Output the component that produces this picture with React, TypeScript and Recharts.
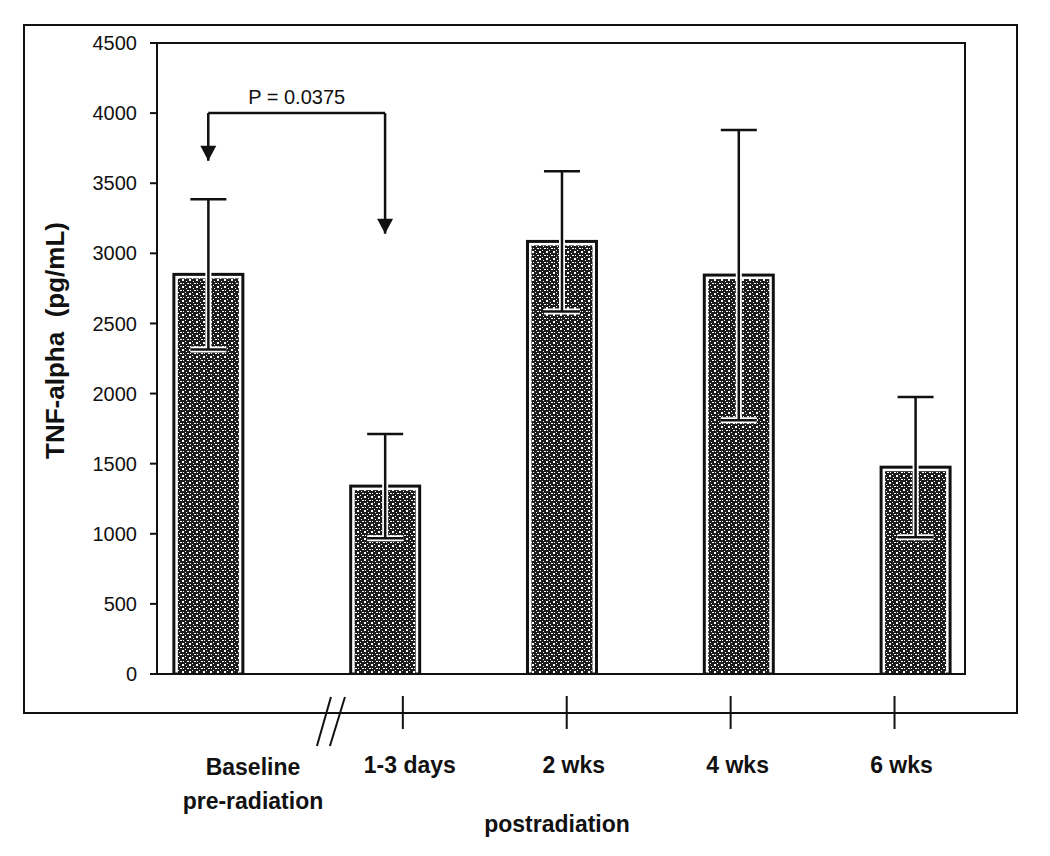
import React from 'react'
import { BarChart, Bar, XAxis, YAxis, ErrorBar, ReferenceLine, ReferenceDot, ReferenceArea } from 'recharts'

const categories = ['Baseline', '1-3 days', '2 wks', '4 wks', '6 wks']
const means = [2850, 1340, 3085, 2845, 1475]
const sds = [535, 372, 500, 1035, 500]
const yTicks = [0, 500, 1000, 1500, 2000, 2500, 3000, 3500, 4000, 4500]
const pLabel = 'P = 0.0375'
const bracketLevel = 4000
const bracketTips = [3660, 3140]

const rows = categories.map((name, i) => ({ idx: i, name, mean: means[i], sd: sds[i] }))

const INK = '#111'
const FONT = '"Liberation Sans", Arial, sans-serif'
// white specks of the scanned stipple fill
const specks = [[0, 0, 2, 1], [4, 1, 1, 1], [1, 3, 1, 1], [5, 3, 2, 1], [3, 5, 1, 1], [0, 6, 2, 1]]

const StippleBar = (p: any) => {
  const { x, y, width, height } = p
  if (!height) return null
  return (
    <g>
      <rect x={x} y={y} width={width} height={height} fill="#fff" stroke={INK} strokeWidth={3} />
      <rect x={x + 4} y={y + 4} width={width - 8} height={height - 4} fill="url(#stipple)" />
    </g>
  )
}

const Arrow = (p: any) => {
  const { cx, cy } = p
  return <polygon points={`${cx - 8},${cy - 15} ${cx + 8},${cy - 15} ${cx},${cy}`} fill={INK} />
}

const OuterTick = (p: any) => {
  const { x, y, payload } = p
  const i = payload.value
  const txt = { fontFamily: FONT, fontWeight: 'bold' as const, fontSize: 23, fill: INK, textAnchor: 'middle' as const }
  if (i === 0) {
    return (
      <g>
        <line x1={x + 78} y1={y + 34} x2={x + 92} y2={y - 15} stroke={INK} strokeWidth={2} />
        <line x1={x + 91} y1={y + 34} x2={x + 106} y2={y - 15} stroke={INK} strokeWidth={2} />
        <text x={x + 14} y={y + 63} {...txt}>{categories[0]}</text>
        <text x={x + 14} y={y + 97} {...txt}>pre-radiation</text>
      </g>
    )
  }
  return (
    <g>
      <line x1={x} y1={y - 16} x2={x} y2={y + 17} stroke={INK} strokeWidth={2} />
      <text x={x + 7} y={y + 61} {...txt}>{categories[i]}</text>
    </g>
  )
}

const yLabel = (p: any) => {
  const vb = p.viewBox
  const cx = vb.x + 55
  const cy = vb.y + vb.height / 2 - 18
  return (
    <text x={cx} y={cy} transform={`rotate(-90 ${cx} ${cy})`} textAnchor="middle" dominantBaseline="central"
      style={{ whiteSpace: 'pre' }} fontFamily={FONT} fontWeight="bold" fontSize={26} fill={INK}>
      TNF-alpha  (pg/mL)
    </text>
  )
}

const xLabel = (p: any) => {
  const vb = p.viewBox
  return (
    <text x={vb.x + vb.width / 2 - 4} y={vb.y + 120} textAnchor="middle" fontFamily={FONT} fontWeight="bold" fontSize={23} fill={INK}>
      postradiation
    </text>
  )
}

export default function App() {
  return (
    <div style={{ position: 'absolute', left: 0, top: 0, width: 1050, height: 856, background: '#fff' }}>
      <svg width={0} height={0} style={{ position: 'absolute' }}>
        <defs>
          <pattern id="stipple" width={7} height={7} patternUnits="userSpaceOnUse">
            <rect width={7} height={7} fill="#1c1c1c" />
            {specks.map((s, k) => <rect key={k} x={s[0]} y={s[1]} width={s[2]} height={s[3]} fill="#fff" />)}
          </pattern>
        </defs>
      </svg>
      <div style={{ position: 'absolute', left: 23, top: 24, width: 995, height: 690, border: `2px solid ${INK}`, boxSizing: 'border-box' }} />
      <div style={{ position: 'absolute', left: 0, top: 0 }}>
        <BarChart width={1050} height={856} data={rows} margin={{ top: 43, right: 85, bottom: 0, left: 0 }}>
          <XAxis dataKey="idx" type="number" domain={[-0.29, 4.28]} allowDataOverflow tick={false} tickLine={false}
            axisLine={{ stroke: INK, strokeWidth: 2 }} height={38} />
          <XAxis xAxisId="outer" dataKey="idx" type="number" domain={[-0.5, 4.43]} allowDataOverflow ticks={[0, 1, 2, 3, 4]}
            axisLine={false} tickLine={false} tickSize={0} tickMargin={0} tick={OuterTick} height={144} label={xLabel} />
          <YAxis type="number" domain={[0, 4500]} ticks={yTicks} width={157} allowDataOverflow
            axisLine={{ stroke: INK, strokeWidth: 2 }} tickLine={{ stroke: INK, strokeWidth: 2 }} tickSize={7} tickMargin={13}
            tick={{ fontFamily: FONT, fontSize: 20, fill: INK }} label={yLabel} />
          <ReferenceArea x1={-0.29} x2={4.28} y1={0} y2={4500} fill="none" stroke={INK} strokeWidth={2} />
          <Bar dataKey="mean" barSize={69} shape={StippleBar} isAnimationActive={false}>
            <ErrorBar dataKey="sd" width={18} stroke="#fff" strokeWidth={6} isAnimationActive={false} />
            <ErrorBar dataKey="sd" width={18} stroke={INK} strokeWidth={2.5} isAnimationActive={false} />
          </Bar>
          <ReferenceLine segment={[{ x: 0, y: bracketLevel }, { x: 1, y: bracketLevel }]} stroke={INK} strokeWidth={2.5}
            label={{ value: pLabel, position: 'top', offset: 9, fontFamily: FONT, fontSize: 20, fill: INK }} />
          <ReferenceLine segment={[{ x: 0, y: bracketLevel }, { x: 0, y: bracketTips[0] }]} stroke={INK} strokeWidth={2.5} />
          <ReferenceLine segment={[{ x: 1, y: bracketLevel }, { x: 1, y: bracketTips[1] }]} stroke={INK} strokeWidth={2.5} />
          <ReferenceDot x={0} y={bracketTips[0]} shape={Arrow} />
          <ReferenceDot x={1} y={bracketTips[1]} shape={Arrow} />
        </BarChart>
      </div>
    </div>
  )
}
